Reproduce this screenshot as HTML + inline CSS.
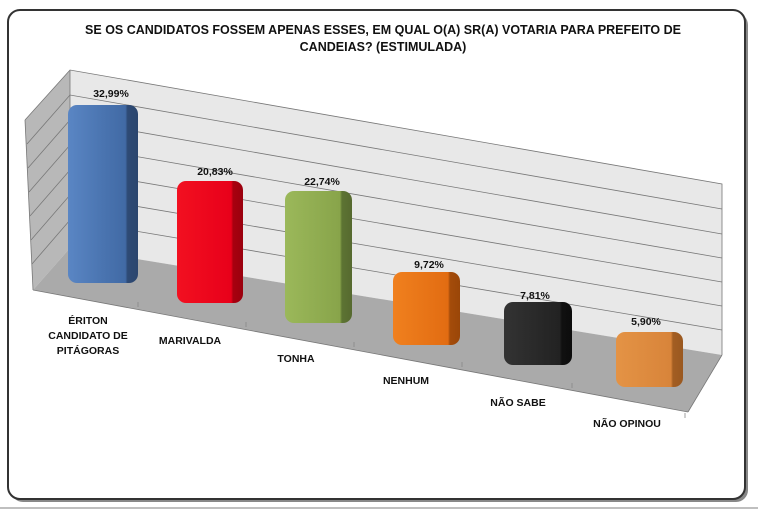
<!DOCTYPE html>
<html><head><meta charset="utf-8"><style>
html,body{margin:0;padding:0;background:#fff;}
svg{display:block;font-family:"Liberation Sans",Arial,sans-serif;}
</style></head><body>
<svg width="758" height="513" viewBox="0 0 758 513" xmlns="http://www.w3.org/2000/svg">
<defs>
<linearGradient id="gb" x1="0" x2="1"><stop offset="0" stop-color="#5a86c4"/><stop offset="0.5" stop-color="#4a74b0"/><stop offset="0.82" stop-color="#416aa5"/><stop offset="0.85" stop-color="#2e4a75"/><stop offset="1" stop-color="#2b466e"/></linearGradient>
<linearGradient id="gr" x1="0" x2="1"><stop offset="0" stop-color="#f21020"/><stop offset="0.82" stop-color="#e8001a"/><stop offset="0.85" stop-color="#a8000f"/><stop offset="1" stop-color="#9a000e"/></linearGradient>
<linearGradient id="gg" x1="0" x2="1"><stop offset="0" stop-color="#9bb85a"/><stop offset="0.82" stop-color="#88a44a"/><stop offset="0.85" stop-color="#5d7433"/><stop offset="1" stop-color="#56692f"/></linearGradient>
<linearGradient id="go" x1="0" x2="1"><stop offset="0" stop-color="#f0801e"/><stop offset="0.82" stop-color="#e26c12"/><stop offset="0.85" stop-color="#a44c0a"/><stop offset="1" stop-color="#9a4608"/></linearGradient>
<linearGradient id="gk" x1="0" x2="1"><stop offset="0" stop-color="#333"/><stop offset="0.82" stop-color="#222"/><stop offset="0.85" stop-color="#111"/><stop offset="1" stop-color="#0c0c0c"/></linearGradient>
<linearGradient id="gl" x1="0" x2="1"><stop offset="0" stop-color="#e49345"/><stop offset="0.82" stop-color="#d8843a"/><stop offset="0.85" stop-color="#a35e22"/><stop offset="1" stop-color="#9a5820"/></linearGradient>
</defs>
<line x1="0" y1="508" x2="758" y2="508" stroke="#aaa" stroke-width="1.5"/>
<rect x="11" y="13" width="737" height="489" rx="12" fill="#888"/>
<rect x="8" y="10" width="737" height="489" rx="12" fill="#fff" stroke="#333" stroke-width="2"/>
<text x="383" y="34" text-anchor="middle" font-size="12.5" font-weight="bold" fill="#111">SE OS CANDIDATOS FOSSEM APENAS ESSES, EM QUAL O(A) SR(A) VOTARIA PARA PREFEITO DE</text>
<text x="383" y="51" text-anchor="middle" font-size="12.5" font-weight="bold" fill="#111">CANDEIAS? (ESTIMULADA)</text>
<!-- side wall -->
<polygon points="70,70 70,248 33,290 25,120" fill="#b8b8b8"/>
<!-- back wall -->
<polygon points="70,70 722,184 722,355 70,248" fill="#e8e8e8"/>
<!-- floor -->
<polygon points="70,248 722,355 688,412 33,290" fill="#aaa"/>
<g stroke="#777" stroke-width="0.8" fill="none">
<polyline points="25,120 70,70 722,184 722,355"/>
<polyline points="27,144 70,95 722,209"/>
<polyline points="28,168 70,120 722,234"/>
<polyline points="29,192 70,145 722,258"/>
<polyline points="30,216 70,170 722,282"/>
<polyline points="31,240 70,195 722,306"/>
<polyline points="32,264 70,220 722,330"/>
<line x1="70" y1="70" x2="70" y2="248"/>
<line x1="25" y1="120" x2="33" y2="290"/>
<line x1="33" y1="290" x2="688" y2="412"/>
<line x1="688" y1="412" x2="722" y2="355"/>
</g>
<g stroke="#888" stroke-width="0.8">
<line x1="138" y1="302" x2="138" y2="307"/><line x1="246" y1="322" x2="246" y2="327"/><line x1="354" y1="342" x2="354" y2="347"/><line x1="462" y1="362" x2="462" y2="367"/><line x1="572" y1="383" x2="572" y2="388"/><line x1="685" y1="413" x2="685" y2="418"/>
</g>
<rect x="68" y="105" width="70" height="178" rx="9" fill="url(#gb)"/>
<rect x="177" y="181" width="66" height="122" rx="9" fill="url(#gr)"/>
<rect x="285" y="191" width="67" height="132" rx="9" fill="url(#gg)"/>
<rect x="393" y="272" width="67" height="73" rx="9" fill="url(#go)"/>
<rect x="504" y="302" width="68" height="63" rx="9" fill="url(#gk)"/>
<rect x="616" y="332" width="67" height="55" rx="9" fill="url(#gl)"/>
<g font-size="10.5" font-weight="bold" fill="#111" text-anchor="middle">
<text x="111" y="97">32,99%</text>
<text x="215" y="175">20,83%</text>
<text x="322" y="185">22,74%</text>
<text x="429" y="268">9,72%</text>
<text x="535" y="299">7,81%</text>
<text x="646" y="325">5,90%</text>
<text x="88" y="324">ÉRITON</text>
<text x="88" y="339">CANDIDATO DE</text>
<text x="88" y="354">PITÁGORAS</text>
<text x="190" y="344">MARIVALDA</text>
<text x="296" y="362">TONHA</text>
<text x="406" y="384">NENHUM</text>
<text x="518" y="406">NÃO SABE</text>
<text x="627" y="427">NÃO OPINOU</text>
</g>
</svg>
</body></html>
